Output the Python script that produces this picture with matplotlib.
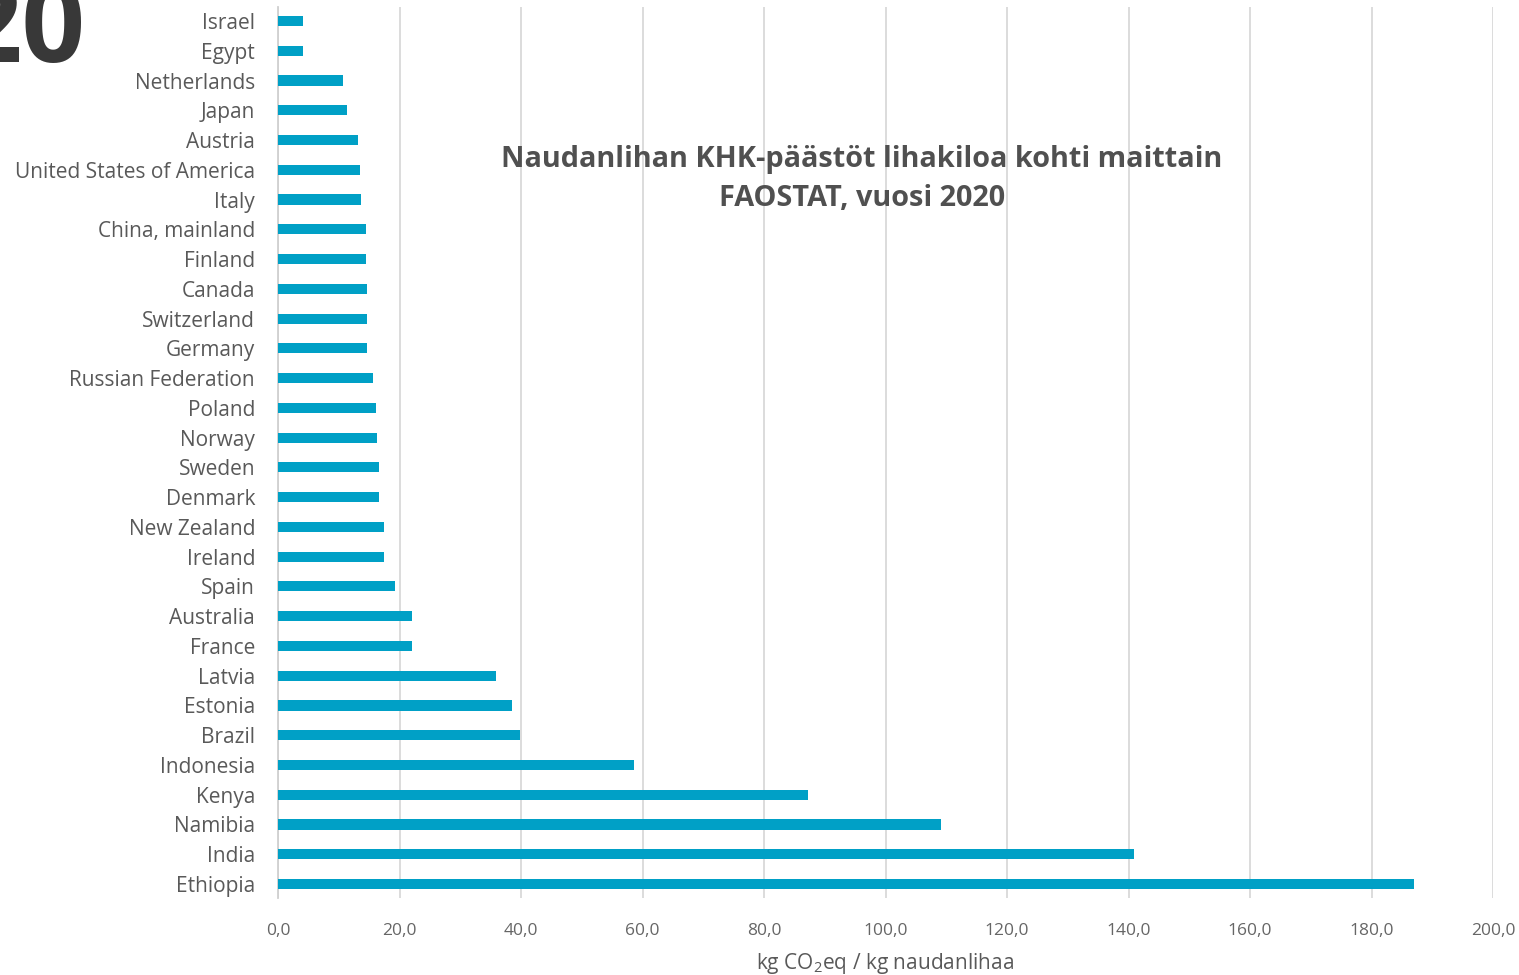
import matplotlib
matplotlib.use("Agg")
import matplotlib.pyplot as plt
from matplotlib.ticker import FuncFormatter, MultipleLocator

plt.rcParams['font.family'] = ['Open Sans', 'DejaVu Sans']
plt.rcParams['mathtext.fontset'] = 'custom'
plt.rcParams['mathtext.rm'] = 'Open Sans'
plt.rcParams['mathtext.it'] = 'Open Sans'

countries = ["Israel", "Egypt", "Netherlands", "Japan", "Austria",
             "United States of America", "Italy", "China, mainland", "Finland",
             "Canada", "Switzerland", "Germany", "Russian Federation", "Poland",
             "Norway", "Sweden", "Denmark", "New Zealand", "Ireland", "Spain",
             "Australia", "France", "Latvia", "Estonia", "Brazil", "Indonesia",
             "Kenya", "Namibia", "India", "Ethiopia"]
values = [4.1, 4.1, 10.7, 11.4, 13.2, 13.5, 13.7, 14.5, 14.5, 14.7, 14.7, 14.7,
          15.6, 16.1, 16.3, 16.6, 16.6, 17.4, 17.4, 19.3, 22.1, 22.1, 35.9,
          38.5, 39.8, 58.6, 87.2, 109.1, 140.9, 187.0]

title = "Naudanlihan KHK-päästöt lihakiloa kohti maittain\nFAOSTAT, vuosi 2020"
xlabel = r"kg CO$_2$eq / kg naudanlihaa"

W, H = 1519, 975
fig = plt.figure(figsize=(W / 100, H / 100), dpi=100)
ax = fig.add_axes([278 / W, 1 - 898 / H, (1493 - 278) / W, (898 - 7) / H])

ypos = list(range(len(countries)))
ax.barh(ypos, values, height=0.34, color="#00a0c6", zorder=3)
ax.set_yticks(ypos)
ax.set_yticklabels(countries, fontsize=15, color="#595959")
ax.set_ylim(len(countries) - 0.53, -0.47)
ax.set_xlim(0, 200)
ax.xaxis.set_major_locator(MultipleLocator(20))
ax.xaxis.set_major_formatter(FuncFormatter(lambda v, p: f"{v:.1f}".replace(".", ",")))
ax.tick_params(axis="x", labelsize=12.5, colors="#666666", length=0, pad=18)
ax.tick_params(axis="y", length=0, pad=16.5)
ax.grid(axis="x", color="#d9d9d9", linewidth=1.3, zorder=0)
for s in ["top", "right", "bottom"]:
    ax.spines[s].set_visible(False)
ax.spines["left"].set_color("#d0d0d0")
ax.spines["left"].set_linewidth(1.3)

ax.set_xlabel(xlabel, fontsize=15, color="#595959", labelpad=9)

fig.text(862 / W, 1 - 179 / H, title, ha="center", va="center", fontsize=20.8,
         fontweight="bold", color="#505050", linespacing=1.5)

fig.text(86 / W, 1 - 62 / H, "20", ha="right", va="baseline", fontsize=80,
         fontweight="bold", color="#383838")

fig.savefig("out.png", dpi=100, facecolor="white")
